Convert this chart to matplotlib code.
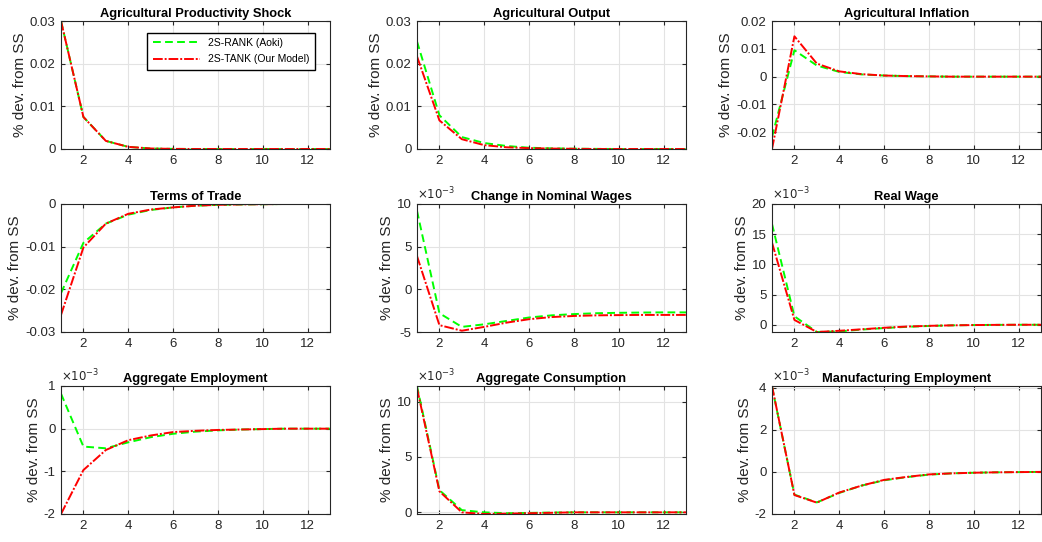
import matplotlib
matplotlib.use('Agg')
import matplotlib.pyplot as plt

plt.rcParams['font.family'] = ['Liberation Sans', 'DejaVu Sans']

periods = list(range(1, 14))

titles = ['Agricultural Productivity Shock', 'Agricultural Output', 'Agricultural Inflation',
          'Terms of Trade', 'Change in Nominal Wages', 'Real Wage',
          'Aggregate Employment', 'Aggregate Consumption', 'Manufacturing Employment']

# 2S-RANK (Aoki)
rank_shock = [0.03, 0.0075, 0.0019, 0.0005, 0.00012, 0.00003, 0, 0, 0, 0, 0, 0, 0]
rank_output = [0.0252, 0.0079, 0.0028, 0.0014, 0.0007, 0.0003, 0.00015, 0.00007, 0.00003, 0, 0, 0, 0]
rank_infl = [-0.0217, 0.0095, 0.004, 0.0017, 0.0008, 0.0004, 0.0002, 0.0001, 0, 0, 0, 0, 0]
rank_tot = [-0.0209, -0.0091, -0.0046, -0.0025, -0.0014, -0.0008, -0.0004, -0.0002, -0.0001, -0.00005, 0, 0, 0]
rank_nomwage = [9.2, -2.8, -4.4, -4.1, -3.7, -3.3, -3.05, -2.9, -2.8, -2.75, -2.72, -2.7, -2.7]
rank_realwage = [16.7, 1.4, -1.2, -1.1, -0.8, -0.55, -0.35, -0.2, -0.1, -0.05, -0.02, 0, 0]
rank_emp = [0.82, -0.42, -0.46, -0.32, -0.2, -0.12, -0.07, -0.04, -0.02, -0.01, 0, 0, 0]
rank_cons = [11.4, 2.0, 0.2, 0.0, -0.08, -0.05, -0.02, 0, 0, 0, 0, 0, 0]
rank_manemp = [4.05, -1.08, -1.45, -1.0, -0.65, -0.4, -0.25, -0.13, -0.07, -0.04, -0.02, -0.01, 0]

# 2S-TANK (Our Model)
tank_shock = [0.03, 0.0075, 0.0019, 0.0005, 0.00012, 0.00003, 0, 0, 0, 0, 0, 0, 0]
tank_output = [0.0217, 0.0067, 0.0023, 0.0009, 0.0004, 0.0002, 0.0001, 0.00005, 0, 0, 0, 0, 0]
tank_infl = [-0.026, 0.0145, 0.0047, 0.0019, 0.0009, 0.0004, 0.0002, 0.0001, 0, 0, 0, 0, 0]
tank_tot = [-0.026, -0.0102, -0.0046, -0.0023, -0.0013, -0.0008, -0.0004, -0.0002, -0.0001, -0.00005, 0, 0, 0]
tank_nomwage = [3.9, -4.2, -4.85, -4.4, -3.9, -3.5, -3.25, -3.12, -3.05, -3.02, -3.0, -3.0, -3.0]
tank_realwage = [13.6, 0.8, -1.2, -1.0, -0.75, -0.5, -0.3, -0.18, -0.1, -0.05, -0.02, 0, 0]
tank_emp = [-2.0, -0.97, -0.5, -0.27, -0.16, -0.08, -0.05, -0.03, -0.02, -0.01, 0, 0, 0]
tank_cons = [11.2, 1.9, 0.0, -0.15, -0.12, -0.08, -0.04, 0, 0, 0, 0, 0, 0]
tank_manemp = [4.08, -1.1, -1.46, -0.98, -0.65, -0.38, -0.24, -0.12, -0.07, -0.04, -0.02, -0.01, 0]

rank = [rank_shock, rank_output, rank_infl, rank_tot, rank_nomwage, rank_realwage, rank_emp, rank_cons, rank_manemp]
tank = [tank_shock, tank_output, tank_infl, tank_tot, tank_nomwage, tank_realwage, tank_emp, tank_cons, tank_manemp]

ylims = [(0, 0.03), (0, 0.03), (-0.026, 0.02), (-0.03, 0), (-5, 10), (-1.2, 20), (-2, 1), (-0.15, 11.4), (-2, 4.08)]
yticks = [[0, 0.01, 0.02, 0.03], [0, 0.01, 0.02, 0.03], [-0.02, -0.01, 0, 0.01, 0.02], [-0.03, -0.02, -0.01, 0],
          [-5, 0, 5, 10], [0, 5, 10, 15, 20], [-2, -1, 0, 1], [0, 5, 10], [-2, 0, 2, 4]]
scaled = [False, False, False, False, True, True, True, True, True]

W, H = 1042, 542
fig = plt.figure(figsize=(W / 100, H / 100), dpi=100)
lefts = [61, 417, 772]
tops = [21, 204, 386]
aw, ah = 270, 128
dark = '#262626'

for i in range(9):
    r, c = divmod(i, 3)
    ax = fig.add_axes([lefts[c] / W, 1 - (tops[r] + ah) / H, (aw - 1) / W, ah / H])
    ax.plot(periods, rank[i], color=(0, 1, 0), lw=1.4, dashes=(4, 2.2), label='2S-RANK (Aoki)')
    ax.plot(periods, tank[i], color=(1, 0, 0), lw=1.4, dashes=(5, 1, 1, 1), label='2S-TANK (Our Model)')
    ax.set_xlim(1, 13)
    ax.set_ylim(*ylims[i])
    ax.set_xticks([2, 4, 6, 8, 10, 12])
    ax.set_yticks(yticks[i])
    ax.set_yticklabels(['%g' % v for v in yticks[i]])
    ax.grid(True, color='#e3e3e3', lw=0.8)
    ax.set_axisbelow(True)
    ax.tick_params(direction='in', length=3, top=True, right=True, labelsize=9.5, colors=dark, pad=4)
    for sp in ax.spines.values():
        sp.set_color(dark)
        sp.set_linewidth(0.8)
    ax.set_title(titles[i], fontsize=9.3, fontweight='bold', pad=3)
    ax.set_ylabel('% dev. from SS', fontsize=11, color=dark, labelpad=2)
    if scaled[i]:
        ax.text(0.0, 1.01, r'$\times10^{-3}$', transform=ax.transAxes, fontsize=8.5,
                color=dark, ha='left', va='bottom')
    if i == 0:
        ax.legend(loc='upper right', fontsize=7.5, frameon=True, fancybox=False, edgecolor='black',
                  framealpha=1, handlelength=4.5, borderpad=0.5, labelspacing=0.6,
                  bbox_to_anchor=(0.962, 0.948))

fig.savefig('out.png', dpi=100)
plt.close(fig)
